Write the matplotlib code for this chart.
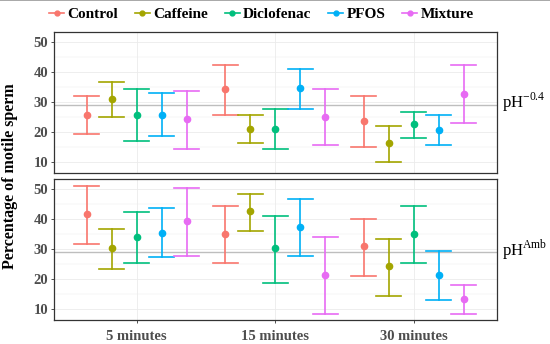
import matplotlib
matplotlib.use("Agg")
import matplotlib.pyplot as plt
from matplotlib.lines import Line2D
import numpy as np

# ---------------- data ----------------
times = ["5 minutes", "15 minutes", "30 minutes"]
treatments = ["Control", "Caffeine", "Diclofenac", "PFOS", "Mixture"]
colors = ["#F8766D", "#A3A500", "#00BF7D", "#00B0F6", "#E76BF3"]
panels = ["pH$^{\\mathregular{-0.4}}$", "pH$^{\\mathregular{Amb}}$"]

# pH -0.4 (top panel): rows = treatments, cols = times
low_mean = [
    [25.8, 34.2, 23.7],
    [31.0, 21.0, 16.2],
    [25.8, 21.0, 22.5],
    [25.8, 34.6, 20.8],
    [24.4, 25.1, 32.6],
]
low_lo = [
    [19.4, 25.8, 15.1],
    [25.0, 16.3, 10.0],
    [17.0, 14.4, 18.0],
    [18.7, 27.8, 15.7],
    [14.5, 15.7, 23.1],
]
low_hi = [
    [32.0, 42.2, 32.0],
    [36.6, 25.8, 22.0],
    [34.3, 27.6, 26.6],
    [32.8, 41.0, 25.6],
    [33.7, 34.2, 42.2],
]

# pH Amb (bottom panel)
amb_mean = [
    [41.5, 34.8, 30.8],
    [30.2, 42.5, 24.2],
    [33.8, 30.2, 34.9],
    [35.3, 37.3, 21.2],
    [39.2, 21.2, 13.5],
]
amb_lo = [
    [31.6, 25.4, 21.0],
    [23.4, 36.0, 14.3],
    [25.2, 18.7, 25.4],
    [27.3, 27.8, 13.2],
    [27.8, 8.4, 8.4],
]
amb_hi = [
    [51.0, 44.1, 39.9],
    [36.5, 48.3, 33.3],
    [42.1, 40.9, 44.3],
    [43.5, 46.7, 29.2],
    [50.3, 33.9, 17.9],
]

ref_line = 28.9
yticks = [10, 20, 30, 40, 50]

# ---------------- style ----------------
plt.rcParams["font.family"] = ["Liberation Serif", "DejaVu Serif"]

fig = plt.figure(figsize=(5.5, 3.44), dpi=100)
left, right = 53.5 / 550, 497 / 550
ax_top = fig.add_axes([left, 1 - 173 / 344, right - left, (173 - 32) / 344])
ax_bot = fig.add_axes([left, 1 - 320 / 344, right - left, (320 - 179) / 344])

dodge = 0.18
cap = 0.09
tick_grey = "#4D4D4D"

data_sets = [(low_mean, low_lo, low_hi), (amb_mean, amb_lo, amb_hi)]
xs = np.arange(1, len(times) + 1)

for ax, (mean, lo, hi), lab in zip([ax_top, ax_bot], data_sets, panels):
    ax.set_xlim(0.4, 3.6)
    ax.set_ylim(6.4, 53.2)
    # grid
    for y in np.arange(5, 55, 5):
        lw = 0.6 if y % 10 == 0 else 0.35
        ax.axhline(y, color="#EBEBEB", lw=lw, zorder=0)
    for x in xs:
        ax.axvline(x, color="#EBEBEB", lw=0.6, zorder=0)
    ax.axhline(ref_line, color="#BEBEBE", lw=1.0, zorder=1)
    for i, (t, c) in enumerate(zip(treatments, colors)):
        off = (i - 2) * dodge
        for j in range(len(times)):
            x = xs[j] + off
            ax.plot([x, x], [lo[i][j], hi[i][j]], color=c, lw=1.2, zorder=3)
            ax.plot([x - cap, x + cap], [lo[i][j]] * 2, color=c, lw=1.2, zorder=3)
            ax.plot([x - cap, x + cap], [hi[i][j]] * 2, color=c, lw=1.2, zorder=3)
            ax.plot(x, mean[i][j], "o", color=c, ms=4.5, zorder=4)
    ax.set_yticks(yticks)
    ax.set_yticklabels([str(v) for v in yticks], fontweight="bold",
                       color=tick_grey, fontsize=10.5)
    ax.tick_params(axis="y", length=2.5, width=0.6, color="#333333", pad=1.5)
    for s in ax.spines.values():
        s.set_color("#333333")
        s.set_linewidth(0.9)
    ax.text(1.012, 0.5, lab, transform=ax.transAxes, ha="left", va="center",
            fontsize=12, color="black")

ax_top.set_xticks(xs)
ax_top.tick_params(axis="x", length=0, labelbottom=False)
ax_bot.set_xticks(xs)
ax_bot.set_xticklabels(times, fontweight="bold", color=tick_grey, fontsize=10.5)
ax_bot.tick_params(axis="x", length=2.5, width=0.6, color="#333333", pad=5)

fig.text(0.018, (1 - 176 / 344), "Percentage of motile sperm", rotation=90,
         ha="center", va="center", fontweight="bold", fontsize=11.5)

handles = [Line2D([0], [0], color=c, lw=1.2, marker="o", ms=3.5) for c in colors]
fig.legend(handles, treatments, loc="center", bbox_to_anchor=(0.475, 1 - 14 / 344),
           ncol=5, frameon=False, prop={"weight": "bold", "size": 11},
           handlelength=1.0, handletextpad=0.2, columnspacing=1.1)

fig.add_artist(Line2D([0, 1], [0.999, 0.999], transform=fig.transFigure,
                      color="#9A9A9A", lw=1.2))

fig.savefig("out.png", dpi=100)
